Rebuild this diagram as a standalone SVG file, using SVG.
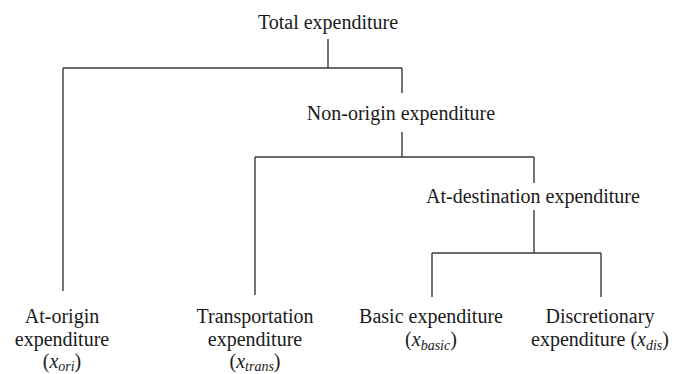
<svg xmlns="http://www.w3.org/2000/svg" width="683" height="374" viewBox="0 0 683 374">
<style>
text{font-family:"Liberation Serif",Tinos,"Times New Roman","DejaVu Serif",serif;font-size:20px;fill:#1a1a1a;text-anchor:middle}
.i{font-style:italic}
.s{font-style:italic;font-size:14px}
#connectors line{stroke:#3a3a3a;stroke-width:1.4;fill:none}
</style>
<rect width="683" height="374" fill="#fff"/>
<g id="connectors">
<line x1="328" y1="39" x2="328" y2="68"/>
<line x1="63" y1="68" x2="402" y2="68"/>
<line x1="63" y1="68" x2="63" y2="291"/>
<line x1="402" y1="68" x2="402" y2="93"/>
<line x1="402" y1="132" x2="402" y2="157"/>
<line x1="255" y1="157" x2="534" y2="157"/>
<line x1="255" y1="157" x2="255" y2="295"/>
<line x1="534" y1="157" x2="534" y2="183"/>
<line x1="534" y1="210" x2="534" y2="253"/>
<line x1="432" y1="253" x2="601" y2="253"/>
<line x1="432" y1="253" x2="432" y2="297"/>
<line x1="601" y1="253" x2="601" y2="297"/>
</g>
<g id="total"><text x="328" y="29">Total expenditure</text></g>
<g id="nonorigin"><text x="401" y="120">Non-origin expenditure</text></g>
<g id="atdestination"><text x="533" y="203">At-destination expenditure</text></g>
<g id="atorigin">
<text x="62" y="323">At-origin</text>
<text x="62" y="346">expenditure</text>
<text x="62" y="368">(<tspan class="i">x</tspan><tspan class="s" dy="3">ori</tspan><tspan dy="-3">)</tspan></text>
</g>
<g id="transportation">
<text x="255" y="323">Transportation</text>
<text x="255" y="346">expenditure</text>
<text x="255" y="368">(<tspan class="i">x</tspan><tspan class="s" dy="3">trans</tspan><tspan dy="-3">)</tspan></text>
</g>
<g id="basic">
<text x="431" y="323">Basic expenditure</text>
<text x="431" y="346">(<tspan class="i">x</tspan><tspan class="s" dy="4">basic</tspan><tspan dy="-4">)</tspan></text>
</g>
<g id="discretionary">
<text x="600" y="323">Discretionary</text>
<text x="600" y="346">expenditure (<tspan class="i">x</tspan><tspan class="s" dy="4">dis</tspan><tspan dy="-4">)</tspan></text>
</g>
</svg>
